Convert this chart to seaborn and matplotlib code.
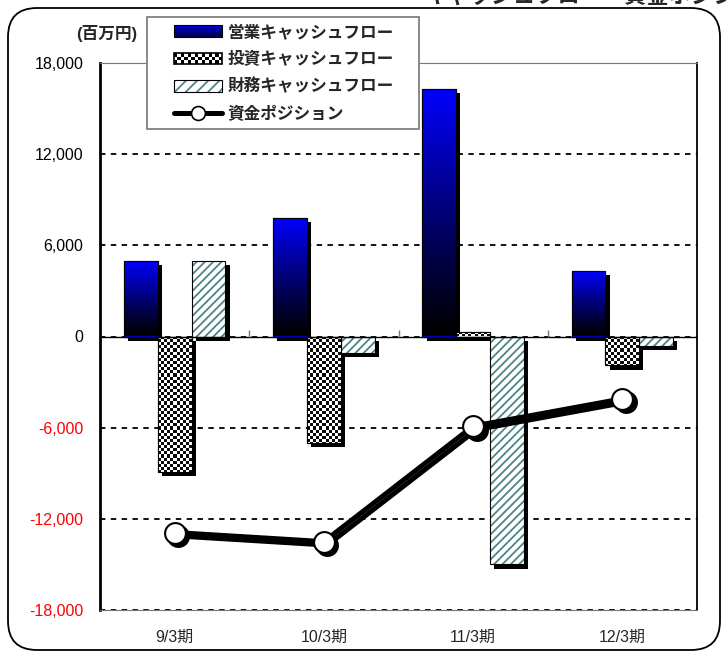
import numpy as np
import pandas as pd
import matplotlib
matplotlib.use('Agg')
import matplotlib.pyplot as plt
import seaborn as sns
from matplotlib.patches import Rectangle, FancyBboxPatch, Patch
from matplotlib.lines import Line2D
from matplotlib.legend_handler import HandlerBase
import matplotlib.patheffects as pe
from matplotlib.transforms import ScaledTranslation
from matplotlib.colors import to_rgba

# ---------------- data ----------------
periods = ['9/3期', '10/3期', '11/3期', '12/3期']
operating_cf = [5000, 7800, 16300, 4300]
investing_cf = [-8900, -7000, 300, -1900]
financing_cf = [5000, -1100, -15000, -600]
cash_position = [-12900, -13500, -5900, -4100]
series_names = ['営業キャッシュフロー', '投資キャッシュフロー', '財務キャッシュフロー']
line_name = '資金ポジション'
yticks = [-18000, -12000, -6000, 0, 6000, 12000, 18000]
unit_label = '(百万円)'
title_text = 'キャッシュフロー・資金ポジション'

HATCH_COLOR = '#4f8585'

sns.set_theme(style='white')
plt.rcParams['font.family'] = ['Liberation Sans', 'Noto Sans CJK JP', 'DejaVu Sans']
plt.rcParams['hatch.linewidth'] = 1.3
plt.rcParams['axes.unicode_minus'] = False

df = pd.DataFrame({
    'period': periods * 3,
    'series': np.repeat(series_names, len(periods)),
    'value': operating_cf + investing_cf + financing_cf,
})
line_df = pd.DataFrame({'period': periods, 'value': cash_position})

fig = plt.figure(figsize=(7.26, 6.55), dpi=100)
ax = fig.add_axes([100 / 726, 1 - 610 / 655, 597 / 726, 547 / 655])

sns.barplot(data=df, x='period', y='value', hue='series', hue_order=series_names,
            order=periods, width=0.68, gap=0, dodge=True, saturation=1,
            palette=['#0000ff', 'white', 'white'], edgecolor='black', linewidth=0.8,
            errorbar=None, legend=False, ax=ax)

shadow_eff = [pe.SimplePatchShadow(offset=(3, -3), shadow_rgbFace='black', alpha=1.0, hatch=None),
              pe.Normal()]

def set_hatchcolor(p, c):
    if hasattr(p, 'set_hatchcolor'):
        p.set_hatchcolor(c)
    else:
        p._hatch_color = to_rgba(c)

containers = list(ax.containers)
# operating: gradient blue->black
for p in containers[0]:
    p.set_path_effects(shadow_eff)
    x0, y0 = p.get_xy()
    w, h = p.get_width(), p.get_height()
    t = np.linspace(0, 1, 256)
    arr = np.zeros((256, 1, 3))
    arr[:, 0, 2] = (1 - t) ** 1.1
    bottom, top = min(y0, y0 + h), max(y0, y0 + h)
    im = ax.imshow(arr, extent=(x0, x0 + w, bottom, top), aspect='auto',
                   interpolation='bilinear', zorder=1.5, origin='upper')
    im.set_clip_path(p)
    ax.add_patch(Rectangle((x0, y0), w, h, fill=False, ec='black', lw=0.8, zorder=1.6))

# investing: checkerboard
cell_y = 3.1 * 36000 / 547
for p in containers[1]:
    p.set_path_effects(shadow_eff)
    x0, y0 = p.get_xy()
    w, h = p.get_width(), p.get_height()
    nx = 11
    ny = int(abs(h) / cell_y) + 2
    ii, jj = np.indices((ny, nx))
    chk = ((ii + jj) % 2).astype(float)
    arr = np.stack([1 - 0.95 * chk] * 3, axis=-1)
    top = max(y0, y0 + h)
    im = ax.imshow(arr, extent=(x0, x0 + w, top - ny * cell_y, top), aspect='auto',
                   interpolation='nearest', zorder=1.5, origin='upper')
    im.set_clip_path(p)
    ax.add_patch(Rectangle((x0, y0), w, h, fill=False, ec='black', lw=0.8, zorder=1.6))

# financing: hatched
for p in containers[2]:
    p.set_path_effects(shadow_eff)
    p.set_facecolor('white')
    p.set_hatch('////')
    set_hatchcolor(p, HATCH_COLOR)

# line: shadow then main
n0 = len(ax.lines)
sns.pointplot(data=line_df, x='period', y='value', order=periods, color='black',
              markers='o', linestyles='-', errorbar=None, ax=ax,
              markersize=15, linewidth=3.6, markerfacecolor='black',
              markeredgecolor='black', markeredgewidth=1.5)
for ln in ax.lines[n0:]:
    ln.set_transform(ax.transData + ScaledTranslation(2.5 / 72, -2.5 / 72, fig.dpi_scale_trans))
    ln.set_zorder(3)
n1 = len(ax.lines)
sns.pointplot(data=line_df, x='period', y='value', order=periods, color='black',
              markers='o', linestyles='-', errorbar=None, ax=ax,
              markersize=15, linewidth=3.6, markerfacecolor='white',
              markeredgecolor='black', markeredgewidth=1.5)
for ln in ax.lines[n1:]:
    ln.set_zorder(3.1)

# axes styling
ax.set_xlim(-0.5, len(periods) - 0.5)
ax.set_ylim(yticks[0], yticks[-1])
ax.set_yticks(yticks)
ax.set_yticklabels([f'{v:,}' for v in yticks])
for lbl, v in zip(ax.get_yticklabels(), yticks):
    lbl.set_color('#ff0000' if v < 0 else 'black')
ax.set_xlabel('')
ax.set_ylabel('')
ax.tick_params(axis='y', length=0, pad=12, labelsize=11.5)
ax.tick_params(axis='x', length=0, pad=14, labelsize=11.5)

ax.set_axisbelow(True)
ax.yaxis.grid(True, linestyle=(0, (3, 3)), color='black', lw=1.3)
ax.axhline(0, color='black', lw=1, zorder=1.8)
ax.vlines(np.arange(len(periods) - 1) + 0.5, 0, 400, colors='#777777', lw=1, zorder=1.8)

ax.spines['left'].set_linewidth(2)
ax.spines['left'].set_color('black')
ax.spines['right'].set_linewidth(1.3)
ax.spines['right'].set_color('black')
for s in ['top', 'bottom']:
    ax.spines[s].set_linewidth(0.8)
    ax.spines[s].set_color('#777777')

# ---------------- legend ----------------
class GradientHandler(HandlerBase):
    def create_artists(self, legend, orig_handle, xdescent, ydescent, width, height, fontsize, trans):
        n = 14
        arts = []
        x0, y0 = -xdescent, -ydescent
        for i in range(n):
            t = i / (n - 1)
            c = (0, 0, 0.85 - 0.55 * t)
            arts.append(Rectangle((x0, y0 + height * (n - 1 - i) / n), width, height / n + 0.3,
                                  fc=c, ec='none', transform=trans))
        arts.append(Rectangle((x0, y0), width, height, fill=False, ec='black', lw=0.8, transform=trans))
        return arts

class CheckerHandler(HandlerBase):
    def create_artists(self, legend, orig_handle, xdescent, ydescent, width, height, fontsize, trans):
        x0, y0 = -xdescent, -ydescent
        arts = [Rectangle((x0, y0), width, height, fc='white', ec='none', transform=trans)]
        nx, ny = 14, 3
        for i in range(nx):
            for j in range(ny):
                if (i + j) % 2 == 0:
                    arts.append(Rectangle((x0 + width * i / nx, y0 + height * j / ny), width / nx,
                                          height / ny, fc='black', ec='none', transform=trans))
        arts.append(Rectangle((x0, y0), width, height, fill=False, ec='black', lw=1.2, transform=trans))
        return arts

class HatchHandler(HandlerBase):
    def create_artists(self, legend, orig_handle, xdescent, ydescent, width, height, fontsize, trans):
        r = Rectangle((-xdescent, -ydescent), width, height, fc='white', ec='black', lw=0.8,
                      hatch='///', transform=trans)
        set_hatchcolor(r, HATCH_COLOR)
        return [r]

h_grad = Patch(label=series_names[0])
h_chk = Patch(label=series_names[1])
h_hat = Patch(label=series_names[2])
h_line = Line2D([], [], color='black', lw=3.6, marker='o', markersize=10,
                markerfacecolor='white', markeredgecolor='black', markeredgewidth=1.2)

# legend frame (drawn separately so its padding matches the reference)
legend_frame = Rectangle((147 / 726, 1 - 129 / 655), 272 / 726, 112 / 655,
                         transform=fig.transFigure, fc='white', ec='#808080', lw=1.3,
                         clip_on=False, zorder=4.9)
ax.add_artist(legend_frame)

leg = ax.legend([h_grad, h_chk, h_hat, h_line], series_names + [line_name],
                handler_map={h_grad: GradientHandler(), h_chk: CheckerHandler(), h_hat: HatchHandler()},
                loc='upper left', bbox_to_anchor=(174 / 726, 1 - 23 / 655),
                bbox_transform=fig.transFigure, borderaxespad=0,
                prop={'family': ['Noto Sans CJK JP', 'DejaVu Sans'], 'weight': 'bold', 'size': 12},
                handlelength=2.9, handleheight=0.7, handletextpad=0.3, labelspacing=0.56,
                borderpad=0, frameon=False, numpoints=1)
leg.set_zorder(5)

# ---------------- figure text / frame ----------------
fig.text(137 / 726, 1 - 33 / 655, unit_label, ha='right', va='center', fontsize=12,
         weight='bold', family=['Liberation Sans', 'Noto Sans CJK JP'])
fig.text(425 / 726, 1 + 4 / 655, title_text, ha='left', va='center', fontsize=16,
         weight='bold', family=['Noto Sans CJK JP', 'DejaVu Sans'])

frame = FancyBboxPatch((8 / 726, 5 / 655), 712 / 726, 642 / 655,
                       boxstyle='round,pad=0,rounding_size=0.04', mutation_aspect=1.108,
                       transform=fig.transFigure, fill=False, ec='black', lw=1.3)
fig.patches.append(frame)

fig.savefig('out.png', dpi=100)
